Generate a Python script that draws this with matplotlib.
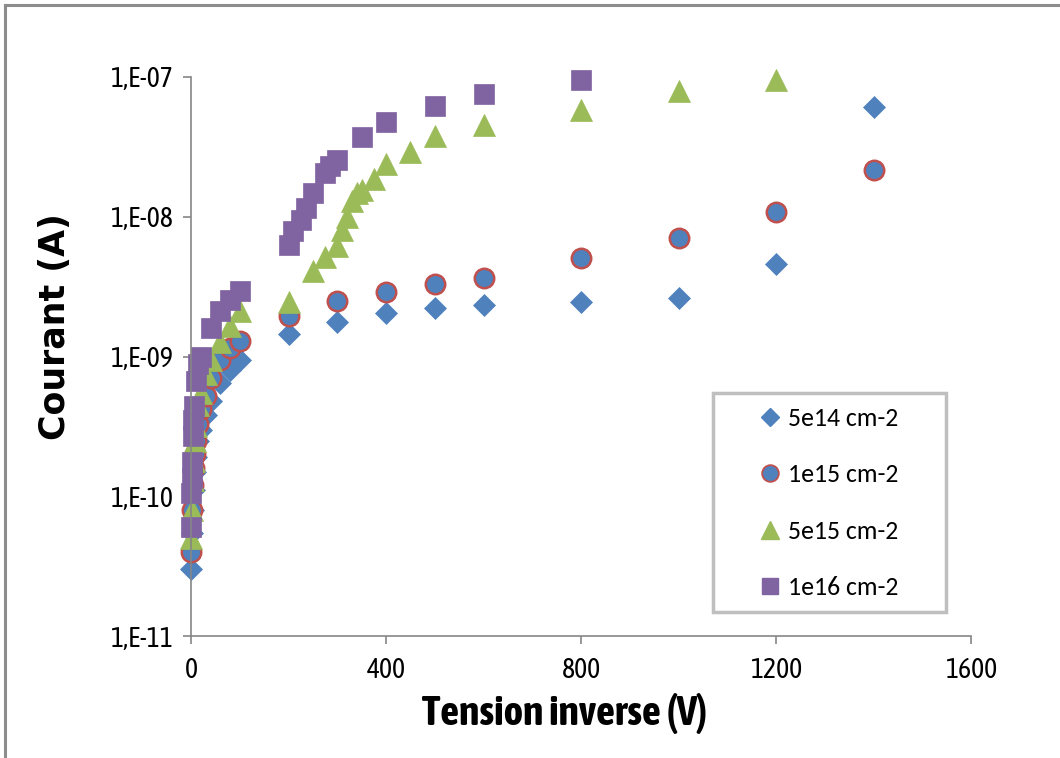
import math
import matplotlib
matplotlib.use("Agg")
import matplotlib.pyplot as plt
from matplotlib.lines import Line2D
from matplotlib.patches import Rectangle
from matplotlib.ticker import FixedLocator, FuncFormatter
from matplotlib import font_manager

# ---------------- data ----------------
v_5e14 = [0, 2, 4, 6, 8, 10, 15, 20, 30, 40, 60, 80, 100, 200, 300, 400, 500, 600, 800, 1000, 1200, 1400]
i_5e14 = [3.0e-11, 5.5e-11, 8e-11, 1.1e-10, 1.5e-10, 1.9e-10, 2.5e-10, 3.0e-10, 3.8e-10, 4.8e-10,
          6.5e-10, 8.0e-10, 9.5e-10, 1.44e-9, 1.78e-9, 2.06e-9, 2.23e-9, 2.35e-9, 2.46e-9, 2.61e-9,
          4.56e-9, 6.1e-8]

v_1e15 = [0, 2, 4, 6, 8, 10, 15, 20, 30, 40, 60, 80, 100, 200, 300, 400, 500, 600, 800, 1000, 1200, 1400]
i_1e15 = [4.0e-11, 8e-11, 1.2e-10, 1.6e-10, 2.0e-10, 2.5e-10, 3.3e-10, 4.2e-10, 5.2e-10, 7.0e-10,
          9.5e-10, 1.15e-9, 1.3e-9, 1.96e-9, 2.51e-9, 2.91e-9, 3.32e-9, 3.67e-9, 5.1e-9, 7.1e-9,
          1.09e-8, 2.16e-8]

v_5e15 = [0, 2, 4, 6, 8, 10, 15, 20, 30, 40, 60, 80, 100, 200, 250, 275, 300, 310, 320, 330, 340,
          350, 375, 400, 450, 500, 600, 800, 1000, 1200]
i_5e15 = [5.0e-11, 8.0e-11, 1.3e-10, 1.8e-10, 2.5e-10, 3.2e-10, 4.5e-10, 5.5e-10, 7.5e-10, 9.5e-10,
          1.26e-9, 1.65e-9, 2.1e-9, 2.45e-9, 4.06e-9, 5.15e-9, 6.2e-9, 8.1e-9, 1.0e-8, 1.29e-8,
          1.48e-8, 1.56e-8, 1.86e-8, 2.39e-8, 2.89e-8, 3.8e-8, 4.5e-8, 5.8e-8, 7.9e-8, 9.5e-8]

v_1e16 = [0, 1, 2, 3, 4, 5, 6, 10, 15, 20, 40, 60, 80, 100, 200, 210, 225, 235, 250, 275, 285,
          300, 350, 400, 500, 600, 800]
i_1e16 = [6.0e-11, 1.05e-10, 1.35e-10, 1.75e-10, 2.7e-10, 3.5e-10, 4.4e-10, 6.7e-10, 8.8e-10, 1.0e-9,
          1.6e-9, 2.1e-9, 2.55e-9, 2.95e-9, 6.3e-9, 7.97e-9, 9.5e-9, 1.15e-8, 1.48e-8, 2.05e-8,
          2.29e-8, 2.55e-8, 3.75e-8, 4.75e-8, 6.2e-8, 7.6e-8, 9.5e-8]

series_labels = ["5e14 cm-2", "1e15 cm-2", "5e15 cm-2", "1e16 cm-2"]
x_ticks = [0, 400, 800, 1200, 1600]
y_ticks = [1e-11, 1e-10, 1e-9, 1e-8, 1e-7]
x_label = "Tension inverse (V)"
y_label = "Courant (A)"

# ---------------- fonts ----------------
names = {f.name for f in font_manager.fontManager.ttflist}


def pick(*cands):
    for c in cands:
        if c in names:
            return [c, "DejaVu Sans"]
    return ["Liberation Sans", "DejaVu Sans"]


COND = pick("Asap Condensed", "Barlow Semi Condensed", "Liberation Sans")
REG = pick("Carlito", "Liberation Sans")
WIDE = ["DejaVu Sans"]
plt.rcParams["font.family"] = REG

BLUE = "#4F81BD"
RED = "#C0504D"
GREEN = "#9BBB59"
PURPLE = "#8064A2"
AXIS = "#868686"

W, H = 1060, 758
fig = plt.figure(figsize=(W / 100, H / 100), dpi=100)
ax = fig.add_axes([191 / W, 1 - 636 / H, 780 / W, 559 / H])

kw = dict(linestyle="none", clip_on=False)
ax.plot(v_5e14, i_5e14, marker="D", ms=11, mfc=BLUE, mec=BLUE, mew=0.5, **kw)
ax.plot(v_1e15, i_1e15, marker="o", ms=14, mfc=BLUE, mec=RED, mew=1.8, **kw)
ax.plot(v_5e15, i_5e15, marker="^", ms=16, mfc=GREEN, mec=GREEN, mew=0.5, **kw)
ax.plot(v_1e16, i_1e16, marker="s", ms=15, mfc=PURPLE, mec=PURPLE, mew=0.5, **kw)

ax.set_yscale("log")
ax.set_xlim(0, 1600)
ax.set_ylim(1e-11, 1e-7)
ax.xaxis.set_major_locator(FixedLocator(x_ticks))
ax.yaxis.set_major_locator(FixedLocator(y_ticks))
ax.yaxis.set_minor_locator(FixedLocator([]))
ax.yaxis.set_major_formatter(FuncFormatter(lambda v, p: "1,E-%02d" % round(-math.log10(v))))

for s in ["top", "right"]:
    ax.spines[s].set_visible(False)
for s in ["left", "bottom"]:
    ax.spines[s].set_color(AXIS)
    ax.spines[s].set_linewidth(1.2)
ax.tick_params(axis="both", which="major", color=AXIS, length=6, width=1.2,
               labelsize=20, labelcolor="black", direction="out")
ax.tick_params(axis="x", pad=9)
ax.tick_params(axis="y", pad=7)
for lab in ax.get_xticklabels() + ax.get_yticklabels():
    lab.set_family(COND)

ax.set_xlabel(x_label, fontsize=30, fontweight="bold", family=COND)
ax.xaxis.label.set_va("center")
ax.xaxis.set_label_coords((565 - 191) / 780, (636 - 713) / 559)
ax.set_ylabel(y_label, fontsize=25, fontweight="bold", family=WIDE)
ax.yaxis.label.set_va("center")
ax.yaxis.set_label_coords((55 - 191) / 780, (636 - 327) / 559)

# legend frame + legend
fig.patches.append(Rectangle((713 / W, 1 - 612 / H), 233 / W, 219 / H, transform=fig.transFigure,
                             facecolor="white", edgecolor="#BFBFBF", linewidth=2.5, zorder=5))
handles = [
    Line2D([], [], linestyle="none", marker="D", ms=9, mfc=BLUE, mec=BLUE),
    Line2D([], [], linestyle="none", marker="o", ms=12, mfc=BLUE, mec=RED, mew=1.3),
    Line2D([], [], linestyle="none", marker="^", ms=13, mfc=GREEN, mec=GREEN),
    Line2D([], [], linestyle="none", marker="s", ms=12, mfc=PURPLE, mec=PURPLE),
]
leg = fig.legend(handles, series_labels, loc="center",
                 bbox_to_anchor=(829.5 / W, 1 - 503 / H), bbox_transform=fig.transFigure,
                 frameon=False, fontsize=18.5, labelspacing=1.3, handlelength=0.75,
                 handletextpad=0.3, numpoints=1)
leg.set_zorder(6)

# outer chart border
fig.patches.append(Rectangle((5 / W, -0.05), 1.2, 1 - 5 / H + 0.05, transform=fig.transFigure,
                             facecolor="none", edgecolor="#8C8C8C", linewidth=2.2))

fig.savefig("out.png", dpi=100)
